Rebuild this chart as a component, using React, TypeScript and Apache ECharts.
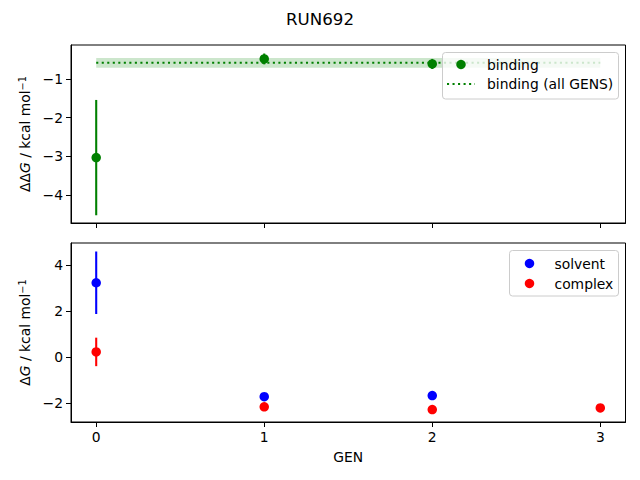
import React, { useEffect, useRef } from "react";
import * as echarts from "echarts";

const title = "RUN692";
const genTicks = [0, 1, 2, 3];
const topYTicks = [-4, -3, -2, -1];
const bottomYTicks = [-2, 0, 2, 4];

const bindingGens = [0, 1, 2];
const bindingValues = [-3.03, -0.48, -0.61];
const bindingErrors = [1.49, 0.14, 0.13];
const bindingAllValue = -0.58;
const bindingAllError = 0.125;

const solventGens = [0, 1, 2];
const solventValues = [3.23, -1.73, -1.68];
const solventErrors = [1.36, 0.1, 0.1];

const complexGens = [0, 1, 2, 3];
const complexValues = [0.22, -2.17, -2.29, -2.22];
const complexErrors = [0.62, 0.1, 0.12, 0.1];

const topLegendLabels = ["binding", "binding (all GENS)"];
const bottomLegendLabels = ["solvent", "complex"];

const FONT = "DejaVu Sans";
const FS = 13.89;
const GREEN = "#008000";
const BLUE = "#0000ff";
const RED = "#ff0000";
const LW = 2.08;
const DOTS = [2.08, 3.44];

const fmt = (v: number) => (v < 0 ? "\u2212" + Math.abs(v) : String(v));

function errSeries(gens: number[], vals: number[], errs: number[], color: string, axisIdx: number) {
  return {
    type: "custom",
    xAxisIndex: axisIdx,
    yAxisIndex: axisIdx,
    z: 1,
    silent: true,
    data: gens.map((g, i) => [g, vals[i] - errs[i], vals[i] + errs[i]]),
    encode: { x: 0, y: [1, 2] },
    renderItem: (params: any, api: any) => {
      const x = api.value(0);
      const p1 = api.coord([x, api.value(1)]);
      const p2 = api.coord([x, api.value(2)]);
      return {
        type: "line",
        shape: { x1: p1[0], y1: p1[1], x2: p2[0], y2: p2[1] },
        style: { stroke: color, lineWidth: LW },
      };
    },
  };
}

function scatter(gens: number[], vals: number[], color: string, axisIdx: number) {
  return {
    type: "scatter",
    xAxisIndex: axisIdx,
    yAxisIndex: axisIdx,
    z: 3,
    symbol: "circle",
    symbolSize: 9.5,
    itemStyle: { color, opacity: 1 },
    data: gens.map((g, i) => [g, vals[i]]),
  };
}

const yName = (prefix: string) =>
  `{a|${prefix}}{i|G}{a| / kcal mol}{s|\u22121}`;

const yNameRich = {
  a: { fontFamily: FONT, fontSize: FS, color: "#000" },
  i: { fontFamily: FONT, fontSize: FS, color: "#000", fontStyle: "italic" },
  s: { fontFamily: FONT, fontSize: 9.7, color: "#000", verticalAlign: "top" },
};

function xAxis(gridIndex: number, showLabels: boolean) {
  return {
    type: "value",
    gridIndex,
    min: -0.15,
    max: 3.15,
    axisLine: { show: true, onZero: false, lineStyle: { color: "#000", width: 1 } },
    axisTick: { show: true, length: 5, customValues: genTicks, lineStyle: { color: "#000" } },
    axisLabel: {
      show: showLabels,
      customValues: genTicks,
      margin: 8,
      fontFamily: FONT,
      fontSize: FS,
      color: "#000",
      formatter: fmt,
    },
    splitLine: { show: false },
    name: showLabels ? "GEN" : "",
    nameLocation: "middle",
    nameGap: 28,
    nameTextStyle: { fontFamily: FONT, fontSize: FS, color: "#000" },
  };
}

function yAxis(gridIndex: number, min: number, max: number, ticks: number[], prefix: string) {
  return {
    type: "value",
    gridIndex,
    min,
    max,
    axisLine: { show: true, onZero: false, lineStyle: { color: "#000", width: 1 } },
    axisTick: { show: true, length: 5, customValues: ticks, lineStyle: { color: "#000" } },
    axisLabel: {
      customValues: ticks,
      margin: 8,
      fontFamily: FONT,
      fontSize: FS,
      color: "#000",
      formatter: fmt,
    },
    splitLine: { show: false },
    name: yName(prefix),
    nameLocation: "middle",
    nameRotate: 90,
    nameGap: 37,
    nameTextStyle: { rich: yNameRich, fontFamily: FONT, fontSize: FS, color: "#000" },
  };
}

function legendGraphics() {
  const els: any[] = [];
  const textStyle = (text: string) => ({
    text,
    fill: "#000",
    fontFamily: FONT,
    fontSize: FS,
    verticalAlign: "middle",
    align: "left",
  });
  // top legend
  els.push({
    type: "rect",
    z: 100,
    shape: { x: 442.5, y: 52.5, width: 176, height: 46.5, r: 3 },
    style: { fill: "rgba(255,255,255,0.8)", stroke: "#cccccc", lineWidth: 1 },
  });
  els.push({
    type: "circle",
    z: 101,
    shape: { cx: 461, cy: 64.5, r: 4.75 },
    style: { fill: GREEN },
  });
  els.push({ type: "text", z: 101, x: 487, y: 64.5, style: textStyle(topLegendLabels[0]) });
  els.push({
    type: "line",
    z: 101,
    shape: { x1: 447, y1: 84, x2: 475, y2: 84 },
    style: { stroke: GREEN, lineWidth: LW, lineDash: DOTS },
  });
  els.push({ type: "text", z: 101, x: 487, y: 84, style: textStyle(topLegendLabels[1]) });
  // bottom legend
  els.push({
    type: "rect",
    z: 100,
    shape: { x: 509.5, y: 250.5, width: 109, height: 45.5, r: 3 },
    style: { fill: "rgba(255,255,255,0.8)", stroke: "#cccccc", lineWidth: 1 },
  });
  els.push({ type: "circle", z: 101, shape: { cx: 529.5, cy: 263.5, r: 4.75 }, style: { fill: BLUE } });
  els.push({ type: "text", z: 101, x: 554.5, y: 263.5, style: textStyle(bottomLegendLabels[0]) });
  els.push({ type: "circle", z: 101, shape: { cx: 529.5, cy: 283.5, r: 4.75 }, style: { fill: RED } });
  els.push({ type: "text", z: 101, x: 554.5, y: 283.5, style: textStyle(bottomLegendLabels[1]) });
  return els;
}

export default function App() {
  const ref = useRef<HTMLDivElement>(null);
  useEffect(() => {
    if (!ref.current) return;
    const chart = echarts.init(ref.current, undefined, { renderer: "svg" });
    chart.setOption({
      animation: false,
      backgroundColor: "#fff",
      textStyle: { fontFamily: FONT },
      title: {
        text: title,
        left: "center",
        top: 6,
        textStyle: { fontFamily: FONT, fontSize: 16.67, fontWeight: "normal", color: "#000" },
      },
      grid: [
        { left: 71, top: 45, width: 554.5, height: 178, show: true, borderColor: "#000", borderWidth: 1, backgroundColor: "transparent" },
        { left: 71, top: 243, width: 554.5, height: 179, show: true, borderColor: "#000", borderWidth: 1, backgroundColor: "transparent" },
      ],
      xAxis: [xAxis(0, false), xAxis(1, true)],
      yAxis: [
        yAxis(0, -4.72, -0.12, topYTicks, "\u0394\u0394"),
        yAxis(1, -2.83, 4.96, bottomYTicks, "\u0394"),
      ],
      series: [
        {
          type: "line",
          xAxisIndex: 0,
          yAxisIndex: 0,
          z: 2,
          symbol: "none",
          silent: true,
          lineStyle: { color: GREEN, width: LW, type: DOTS },
          data: [
            [genTicks[0], bindingAllValue],
            [genTicks[genTicks.length - 1], bindingAllValue],
          ],
          markArea: {
            silent: true,
            itemStyle: { color: "rgba(0,128,0,0.2)" },
            data: [
              [
                { coord: [genTicks[0], bindingAllValue - bindingAllError] },
                { coord: [genTicks[genTicks.length - 1], bindingAllValue + bindingAllError] },
              ],
            ],
          },
        },
        errSeries(bindingGens, bindingValues, bindingErrors, GREEN, 0),
        scatter(bindingGens, bindingValues, GREEN, 0),
        errSeries(solventGens, solventValues, solventErrors, BLUE, 1),
        errSeries(complexGens, complexValues, complexErrors, RED, 1),
        scatter(solventGens, solventValues, BLUE, 1),
        scatter(complexGens, complexValues, RED, 1),
      ],
      graphic: legendGraphics(),
    });
    return () => chart.dispose();
  }, []);
  return (
    <div
      ref={ref}
      style={{ position: "fixed", left: 0, top: 0, width: 640, height: 480, background: "#fff" }}
    />
  );
}
